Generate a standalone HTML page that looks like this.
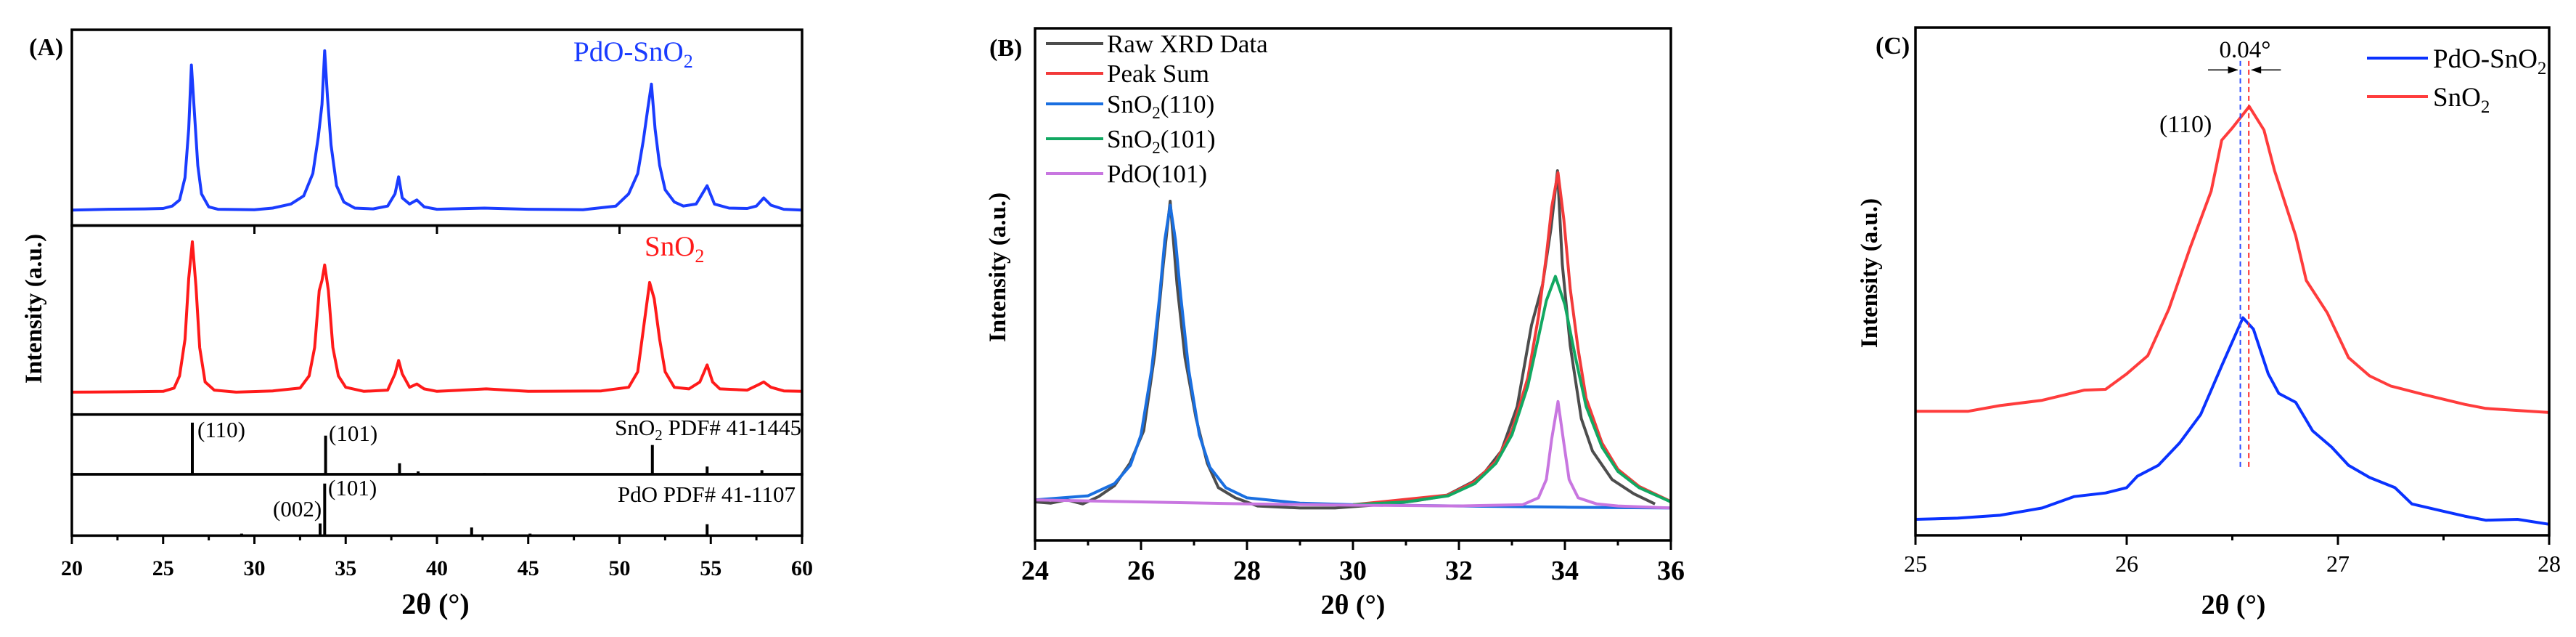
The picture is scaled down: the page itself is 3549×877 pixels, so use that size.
<!DOCTYPE html>
<html><head><meta charset="utf-8"><style>
html,body{margin:0;padding:0;background:#fff;}
svg{display:block;font-family:"Liberation Serif",serif;}
</style></head><body>
<svg id="fig" width="3549" height="877" viewBox="0 0 3549 877" xmlns="http://www.w3.org/2000/svg">
<rect width="3549" height="877" fill="#fff"/>
<g id="gA"></g>
<g id="gB"></g>
<g id="gC"></g>
</svg>
<script>
// ---------- Panel A data ----------
const aBlueX=[20,22,24,25,25.5,25.9,26.2,26.4,26.55,26.7,26.9,27.1,27.5,28,30,31,32,32.7,33.2,33.5,33.7,33.85,34.0,34.2,34.5,34.9,35.5,36.5,37.3,37.7,37.9,38.1,38.5,38.9,39.3,40,42.6,45,48,49.8,50.5,51.0,51.3,51.55,51.75,51.95,52.2,52.5,53,53.5,54.2,54.8,55.2,56,57,57.5,57.9,58.3,59,60];
const aBlueY=[0,2,3,4,10,25,80,200,357,250,110,40,8,2,1,5,15,35,90,180,260,392,280,160,60,20,5,3,10,40,82,30,15,25,8,2,5,2,1,10,40,90,170,250,310,200,110,50,20,10,15,60,15,5,4,10,30,12,2,0];
const aRedX=[20,23,25,25.6,25.9,26.2,26.4,26.6,26.8,27.0,27.3,27.8,29,31,32.5,33.0,33.3,33.55,33.7,33.85,34.05,34.3,34.6,35,36,37.3,37.7,37.9,38.1,38.5,38.9,39.3,40,42.7,45,49,50.5,51.0,51.35,51.65,51.9,52.2,52.5,53,53.8,54.4,54.8,55.1,55.5,57,57.6,57.9,58.3,59,60];
const aRedY=[0,1,2,10,40,130,280,370,260,110,25,5,0,3,10,40,110,250,275,313,250,110,40,12,2,5,45,78,45,12,20,8,2,8,2,3,12,50,170,270,230,130,50,12,8,25,67,25,8,5,18,25,12,3,2];
const sno2RefX=[26.6,33.9,37.95,38.97,42.6,51.8,54.8,57.8];
const sno2RefY=[127,95,27,7,3,72,19,10];
const pdoRefX=[29.3,33.6,33.85,41.9,45.1,54.8];
const pdoRefY=[5,30,128,20,5,28];
const aTicks=[20,25,30,35,40,45,50,55,60];
// ---------- Panel B data ----------
const bRawX=[24,24.3,24.6,24.9,25.2,25.5,25.79,26.05,26.26,26.42,26.55,26.68,26.83,27.04,27.25,27.46,27.78,28.2,29,29.66,30.7,31.2,31.75,32.27,32.5,32.8,33.1,33.37,33.58,33.74,33.86,33.95,34.1,34.31,34.52,34.89,35.3,35.7];
const bRawY=[95,92,100,90,108,135,190,270,460,680,835,630,450,300,190,130,105,85,80,80,90,98,110,145,170,220,330,530,630,770,910,680,480,300,220,150,115,90];
const bFit110X=[24,25,25.5,25.8,26.0,26.2,26.35,26.45,26.55,26.65,26.75,26.9,27.1,27.3,27.6,28,29,30,32,34,36];
const bFit110Y=[100,110,140,185,260,420,600,740,825,740,600,420,260,180,130,105,92,88,85,82,80];
const bFit101X=[30,31,31.8,32.3,32.7,33.0,33.3,33.5,33.65,33.82,34.0,34.2,34.4,34.7,35.0,35.4,36];
const bFit101Y=[88,95,110,140,190,260,380,500,590,650,580,450,330,230,170,130,95];
const bPdoX=[24,26,28,30,32,33.2,33.5,33.65,33.75,33.87,33.98,34.08,34.25,34.6,35,36];
const bPdoY=[100,95,90,87,85,88,105,150,250,342,240,150,105,90,85,80];
const bSumX=[30,31.8,32.3,32.7,33.0,33.3,33.5,33.65,33.75,33.87,33.98,34.1,34.25,34.4,34.7,35,35.4,36];
const bSumY=[88,112,145,195,270,400,550,700,820,905,790,620,470,350,240,175,133,96];
const bTicks=[24,26,28,30,32,34,36];
// ---------- Panel C data ----------
const cRedX=[25,25.25,25.4,25.6,25.8,25.9,26.0,26.1,26.2,26.3,26.4,26.45,26.5,26.58,26.65,26.7,26.8,26.85,26.95,27.05,27.15,27.25,27.4,27.6,27.7,27.85,28];
const cRedY=[306,306,320,333,358,360,398,443,558,708,848,973,1003,1056,998,898,738,628,548,438,393,368,348,323,313,308,303];
const cBlueX=[25,25.2,25.4,25.6,25.75,25.9,26.0,26.05,26.15,26.25,26.35,26.45,26.55,26.6,26.67,26.72,26.8,26.88,26.97,27.05,27.15,27.27,27.35,27.5,27.6,27.7,27.85,28];
const cBlueY=[40,43,50,68,96,105,118,146,173,228,298,418,536,508,398,350,328,258,218,173,143,118,78,60,48,38,40,28];
const cPeaks=[26.538,26.578];
const cTicks=[25,26,27,28];

const NS="http://www.w3.org/2000/svg";
function mk(parent,tag,attrs){const e=document.createElementNS(NS,tag);for(const k in attrs)e.setAttribute(k,attrs[k]);parent.appendChild(e);return e;}
function pathD(xs,ys,fx,fy){let d="";for(let i=0;i<xs.length;i++){d+=(i?"L":"M")+fx(xs[i]).toFixed(1)+","+fy(ys[i]).toFixed(1);}return d;}

// ===== Panel A =====
const gA=document.getElementById('gA');
const xA=d=>99+(d-20)*(1105-99)/40;
const yBlue=u=>(517-u)*0.5595, yRed=u=>(965-u)*0.5595, ySn=u=>(1167-u)*0.5595, yPd=u=>(1318-u)*0.5595;
let p=mk(gA,'path',{d:pathD(aBlueX,aBlueY,xA,yBlue),fill:'none',stroke:'#1a3cff','stroke-width':4,'stroke-linejoin':'round'});

p=mk(gA,'path',{d:pathD(aRedX,aRedY,xA,yRed),fill:'none',stroke:'#ff1a1a','stroke-width':4,'stroke-linejoin':'round'});

for(let i=0;i<sno2RefX.length;i++){const l=mk(gA,'line',{x1:xA(sno2RefX[i]),x2:xA(sno2RefX[i]),y1:ySn(0),y2:ySn(sno2RefY[i]),stroke:'#000','stroke-width':4});
}
for(let i=0;i<pdoRefX.length;i++){const l=mk(gA,'line',{x1:xA(pdoRefX[i]),x2:xA(pdoRefX[i]),y1:yPd(0),y2:yPd(pdoRefY[i]),stroke:'#000','stroke-width':4});
}
for(const [y1,y2] of [[41,310.5],[310.5,570.7],[570.7,653],[653,737.4]]){const r=mk(gA,'rect',{x:99,y:y1,width:1006,height:y2-y1,fill:'none',stroke:'#000','stroke-width':3.5});
}
for(let v=20;v<=60;v+=2.5){const major=(v%5===0);const t=mk(gA,'line',{x1:xA(v),x2:xA(v),y1:737,y2:737+(major?12:7),stroke:'#000','stroke-width':3});
}
for(const v of [30,40,50]){mk(gA,'line',{x1:xA(v),x2:xA(v),y1:310,y2:322,stroke:'#000','stroke-width':3});}
for(const v of aTicks){const t=mk(gA,'text',{x:xA(v),y:792,'text-anchor':'middle','font-size':30,'font-weight':'bold'});t.textContent=v;
}
gA.insertAdjacentHTML('beforeend',`
<text x="40" y="76" font-size="34" font-weight="bold">(A)</text>
<text x="790" y="84" font-size="39" fill="#1a3cff">PdO-SnO<tspan font-size="26" dy="9">2</tspan></text>
<text x="888" y="352" font-size="39" fill="#ff1a1a">SnO<tspan font-size="26" dy="9">2</tspan></text>
<text x="272" y="602" font-size="31">(110)</text>
<text x="453" y="607" font-size="31">(101)</text>
<text x="1104" y="599" font-size="31" text-anchor="end">SnO<tspan font-size="21" dy="7">2</tspan><tspan dy="-7"> PDF# 41-1445</tspan></text>
<text x="1096" y="691" font-size="31" text-anchor="end">PdO PDF# 41-1107</text>
<text x="376" y="711" font-size="31">(002)</text>
<text x="452" y="682" font-size="31">(101)</text>
<text transform="translate(57,425) rotate(-90)" text-anchor="middle" font-size="33" font-weight="bold">Intensity (a.u.)</text>
<text x="600" y="845" text-anchor="middle" font-size="40" font-weight="bold">2θ (°)</text>`);

// ===== Panel B =====
const gB=document.getElementById('gB');
const xB=d=>1426+(d-24)*(2302-1426)/12;
const yB=u=>(1330-u)*0.5595;
const bSeries=[[bRawX,bRawY,'#4d4d4d','raw-xrd-line'],[bSumX,bSumY,'#f23a3a','peak-sum-line'],[bFit110X,bFit110Y,'#1a6fe0','sno2-110-fit-line'],[bFit101X,bFit101Y,'#12a862','sno2-101-fit-line'],[bPdoX,bPdoY,'#c876e0','pdo-101-fit-line']];
for(const [xs,ys,c,n] of bSeries){const q=mk(gB,'path',{d:pathD(xs,ys,xB,yB),fill:'none',stroke:c,'stroke-width':4,'stroke-linejoin':'round'});
}
let rb=mk(gB,'rect',{x:1426,y:39,width:876,height:705,fill:'none',stroke:'#000','stroke-width':3.5});

for(let v=24;v<=36;v+=1){const major=(v%2===0);const t=mk(gB,'line',{x1:xB(v),x2:xB(v),y1:744,y2:744+(major?13:7),stroke:'#000','stroke-width':3});
}
for(const v of bTicks){const t=mk(gB,'text',{x:xB(v),y:798,'text-anchor':'middle','font-size':38,'font-weight':'bold'});t.textContent=v;
}
const legB=[['#4d4d4d','Raw XRD Data',null],['#f23a3a','Peak Sum',null],['#1a6fe0','SnO','(110)'],['#12a862','SnO','(101)'],['#c876e0','PdO(101)',null]];
const legBy=[60,101,143,191,239];
legB.forEach((e,i)=>{const g=mk(gB,'g',{});
mk(g,'line',{x1:1441,x2:1520,y1:legBy[i],y2:legBy[i],stroke:e[0],'stroke-width':4});
const t=mk(g,'text',{x:1525,y:legBy[i]+12,'font-size':35});
if(e[2]){t.innerHTML=e[1]+'<tspan font-size="23" dy="8">2</tspan><tspan dy="-8">'+e[2]+'</tspan>';}else t.textContent=e[1];});
gB.insertAdjacentHTML('beforeend',`
<text x="1363" y="77" font-size="34" font-weight="bold">(B)</text>
<text transform="translate(1385,368) rotate(-90)" text-anchor="middle" font-size="33" font-weight="bold">Intensity (a.u.)</text>
<text x="1864" y="845" text-anchor="middle" font-size="38" font-weight="bold">2θ (°)</text>`);

// ===== Panel C =====
const gC=document.getElementById('gC');
const xC=d=>2639+(d-25)*(3512-2639)/3;
const yC=u=>(1318-u)*0.5595;
p=mk(gC,'path',{d:pathD(cRedX,cRedY,xC,yC),fill:'none',stroke:'#ff3c3c','stroke-width':4,'stroke-linejoin':'round'});

p=mk(gC,'path',{d:pathD(cBlueX,cBlueY,xC,yC),fill:'none',stroke:'#0a32ff','stroke-width':4,'stroke-linejoin':'round'});

const dashCols=['#2a4cff','#ff2a2a'];
cPeaks.forEach((v,i)=>{const l=mk(gC,'line',{x1:xC(v),x2:xC(v),y1:yC(1168),y2:yC(168),stroke:dashCols[i],'stroke-width':2,'stroke-dasharray':'7,5'});
});
const ay=yC(1146);
gC.insertAdjacentHTML('beforeend',`
<g>
<line x1="${xC(26.385)}" x2="${xC(cPeaks[0])-4}" y1="${ay}" y2="${ay}" stroke="#000" stroke-width="1.5"/>
<polygon points="${xC(cPeaks[0])-3},${ay} ${xC(cPeaks[0])-17},${ay-5} ${xC(cPeaks[0])-17},${ay+5}" fill="#000"/>
<line x1="${xC(cPeaks[1])+4}" x2="${xC(26.73)}" y1="${ay}" y2="${ay}" stroke="#000" stroke-width="1.5"/>
<polygon points="${xC(cPeaks[1])+3},${ay} ${xC(cPeaks[1])+17},${ay-5} ${xC(cPeaks[1])+17},${ay+5}" fill="#000"/>
</g>`);
let rc=mk(gC,'rect',{x:2639,y:38,width:873,height:699,fill:'none',stroke:'#000','stroke-width':3.5});

for(let v=25;v<=28;v+=0.5){const major=(v%1===0);const t=mk(gC,'line',{x1:xC(v),x2:xC(v),y1:737,y2:737+(major?13:7),stroke:'#000','stroke-width':3});
}
for(const v of cTicks){const t=mk(gC,'text',{x:xC(v),y:787,'text-anchor':'middle','font-size':32});t.textContent=v;
}
gC.insertAdjacentHTML('beforeend',`
<text x="2584" y="74" font-size="34" font-weight="bold">(C)</text>
<text x="${xC(26.56)}" y="79" text-anchor="middle" font-size="33">0.04°</text>
<text x="2975" y="182" font-size="34">(110)</text>
<g><line x1="3261" x2="3345" y1="80" y2="80" stroke="#0a32ff" stroke-width="4"/>
<text x="3352" y="93" font-size="37">PdO-SnO<tspan font-size="25" dy="9">2</tspan></text></g>
<g><line x1="3261" x2="3345" y1="133" y2="133" stroke="#ff3c3c" stroke-width="4"/>
<text x="3352" y="146" font-size="37">SnO<tspan font-size="25" dy="9">2</tspan></text></g>
<text transform="translate(2586,376) rotate(-90)" text-anchor="middle" font-size="33" font-weight="bold">Intensity (a.u.)</text>
<text x="3077" y="845" text-anchor="middle" font-size="38" font-weight="bold">2θ (°)</text>`);
</script>
</body></html>
